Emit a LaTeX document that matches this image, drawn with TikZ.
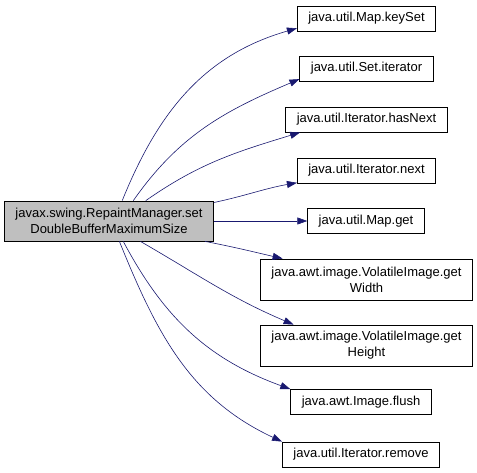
\documentclass[tikz,border=0pt]{standalone}
\usepackage{fontspec}
\setmainfont{Liberation Sans}
\usepackage{xcolor}
\usepackage{tikz}
\usetikzlibrary{arrows.meta,positioning,calc}
\definecolor{edgeblue}{HTML}{191970}
\definecolor{boxgray}{HTML}{BFBFBF}

\tikzset{
  fn/.style={draw=black, thick, fill=white, inner xsep=11pt, inner ysep=0pt,
    minimum height=25pt, align=center,
    font=\fontsize{13}{16}\selectfont},
  fntwo/.style={fn, minimum height=41pt},
  caller/.style={fn, fill=boxgray, minimum width=208pt, minimum height=40pt},
  call/.style={draw=edgeblue, semithick, -{Triangle[length=10pt,width=7pt]}}
}

\begin{document}
\begin{tikzpicture}[x=1pt,y=-1pt]
  \useasboundingbox (0,0) rectangle (477,473);
  % caller
  \node[caller] (main) at (109,221) {javax.swing.RepaintManager.set\\DoubleBufferMaximumSize};
  % callees
  \node[fn] (keyset)  at (366.5,18.5)  {java.util.Map.keySet};
  \node[fn] (setit)   at (366.5,68.5)  {java.util.Set.iterator};
  \node[fn] (hasnext) at (366.5,119.5) {java.util.Iterator.hasNext};
  \node[fn] (next)    at (366.5,170.5) {java.util.Iterator.next};
  \node[fn] (mapget)  at (366,221)     {java.util.Map.get};
  \node[fntwo] (width)  at (366.5,279.5) {java.awt.image.VolatileImage.get\\Width};
  \node[fntwo] (height) at (366.5,345.5) {java.awt.image.VolatileImage.get\\Height};
  \node[fn] (flush)   at (361,402)     {java.awt.Image.flush};
  \node[fn] (remove)  at (361,454.5)   {java.util.Iterator.remove};
  % calls
  \draw[call] (main.57)  to[out=68, in=196] (keyset.188.6);
  \draw[call] (main.40)  to[out=55, in=203] (setit.189.8);
  \draw[call] (main.29)  to[out=35, in=197] (hasnext.191);
  \draw[call] (main.10.5) to[out=12, in=190] (next.190.6);
  \draw[call] (main.east) -- (mapget.west);
  \draw[call] (main.-12.5) to[out=-11, in=167] (width.166.7);
  \draw[call] (main.-33) to[out=-30, in=157] (height.164.7);
  \draw[call] (main.-55) to[out=-62, in=160] (flush.north west);
  \draw[call] (main.-63) to[out=-68, in=155] (remove.north west);
\end{tikzpicture}
\end{document}
